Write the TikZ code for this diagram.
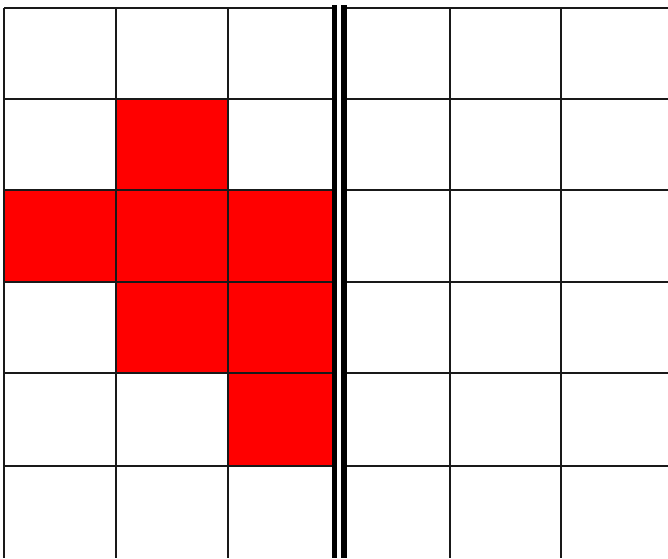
\documentclass[tikz,border=0pt]{standalone}
\begin{document}
\begin{tikzpicture}[x=1pt,y=-1pt,
  gridline/.style={draw=black!90,line width=1.6pt},
  thickline/.style={draw=black,line width=5.5pt},
  redcell/.style={fill=red}]
\useasboundingbox (0,0) rectangle (668,558);
\fill[white] (0,0) rectangle (668,558);
% red cells
\fill[redcell] (116,99) rectangle (228,190);
\fill[redcell] (4,190) rectangle (332,282);
\fill[redcell] (116,282) rectangle (332,373);
\fill[redcell] (228,373) rectangle (332,466);
% horizontal lines
\foreach \y in {8,99,190,282,373,466}
  \draw[gridline] (4,\y) -- (668,\y);
% vertical lines
\foreach \x in {4,116,228,450,561}
  \draw[gridline] (\x,8) -- (\x,558);
% thick double divider
\fill[white] (336,4) rectangle (342,558);
\draw[thickline] (334.5,5) -- (334.5,558);
\draw[thickline] (344,5) -- (344,558);
\end{tikzpicture}
\end{document}
